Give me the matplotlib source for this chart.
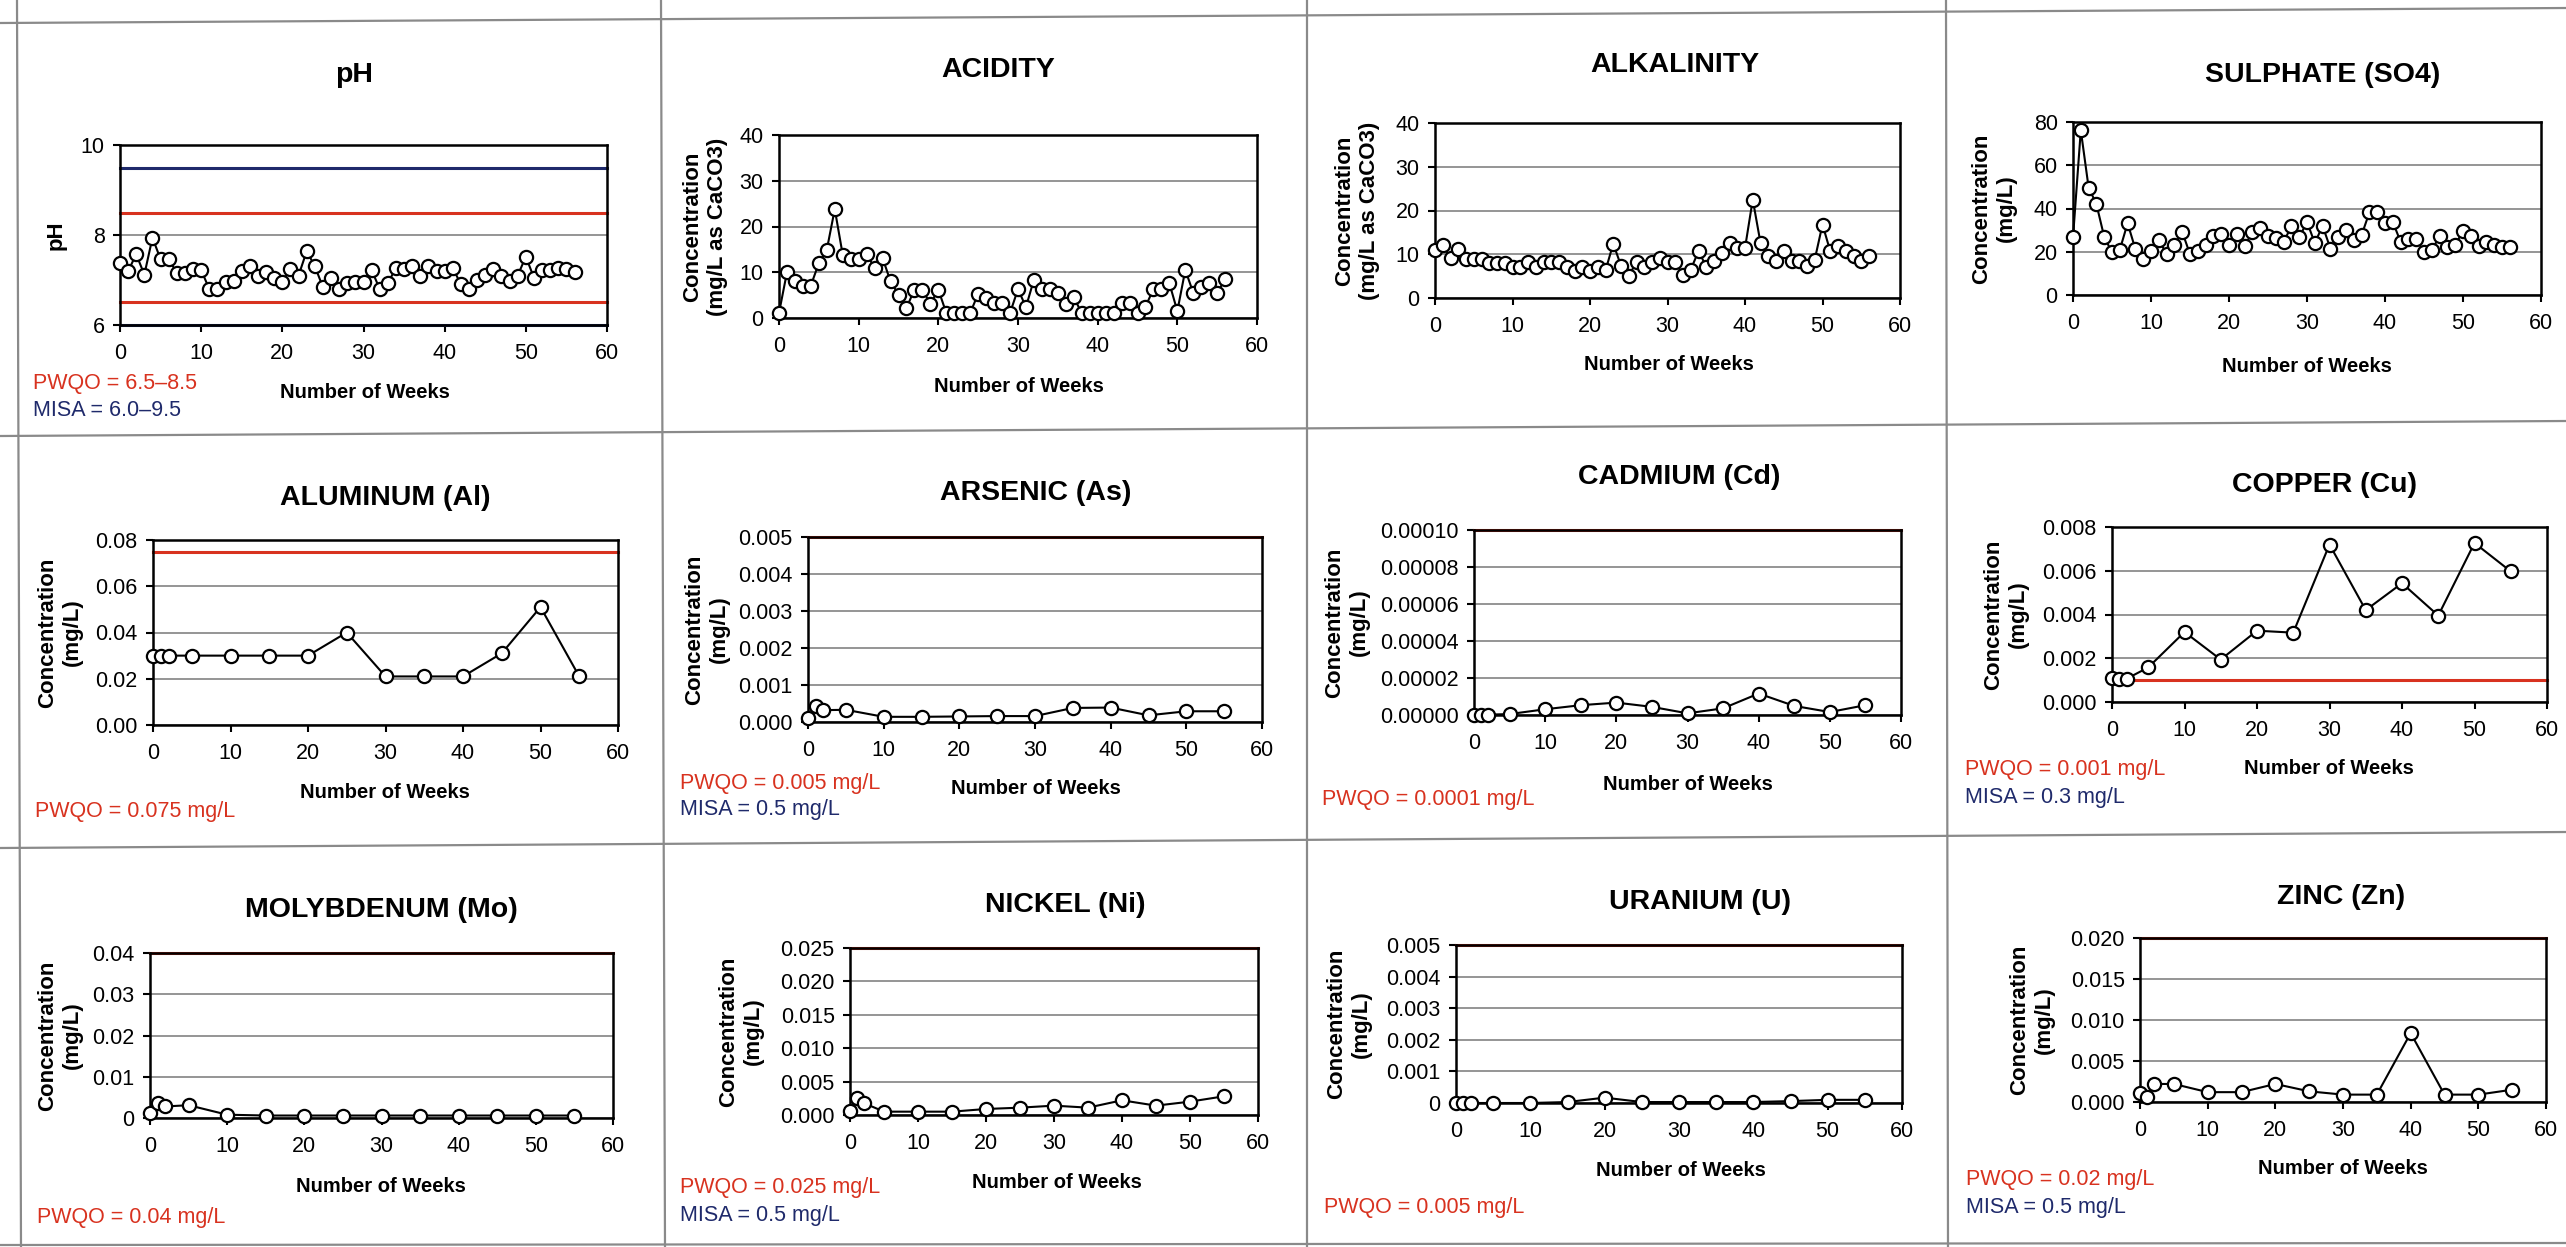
import matplotlib
matplotlib.use("Agg")
import matplotlib.pyplot as plt
from matplotlib.lines import Line2D
from matplotlib.ticker import FixedLocator, FuncFormatter

plt.rcParams['font.family'] = ['Liberation Sans', 'DejaVu Sans']

# ---- data (weeks and measured values) ----
weeks_weekly = list(range(57))
ph = [7.38, 7.20, 7.57, 7.12, 7.94, 7.46, 7.46, 7.16, 7.16, 7.25, 7.22, 6.80, 6.80, 6.95, 6.97,
      7.20, 7.31, 7.08, 7.17, 7.05, 6.95, 7.25, 7.10, 7.64, 7.31, 6.84, 7.05, 6.79, 6.93, 6.95,
      6.95, 7.22, 6.80, 6.93, 7.27, 7.25, 7.31, 7.10, 7.31, 7.20, 7.20, 7.27, 6.90, 6.80, 7.01,
      7.12, 7.25, 7.10, 6.97, 7.10, 7.52, 7.05, 7.23, 7.23, 7.27, 7.25, 7.17]
acidity = [1.1, 10.0, 8.0, 6.9, 7.1, 12.0, 14.9, 23.8, 13.8, 12.9, 12.9, 14.0, 10.9, 13.1, 8.0,
           5.1, 2.2, 6.2, 6.2, 3.1, 6.2, 1.1, 1.1, 1.1, 1.1, 5.3, 4.4, 3.3, 3.3, 1.1,
           6.3, 2.4, 8.4, 6.3, 6.3, 5.5, 3.1, 4.5, 1.1, 1.1, 1.1, 1.1, 1.1, 3.3, 3.3,
           1.1, 2.5, 6.3, 6.3, 7.6, 1.5, 10.5, 5.5, 6.8, 7.6, 5.5, 8.5]
alkalinity = [11.0, 12.2, 9.1, 11.2, 8.9, 8.9, 8.9, 8.0, 8.0, 8.0, 7.1, 7.1, 8.2, 7.1, 8.2,
              8.2, 8.2, 7.2, 6.1, 7.2, 6.1, 7.2, 6.3, 12.4, 7.4, 5.1, 8.2, 7.1, 8.2, 9.1,
              8.2, 8.2, 5.3, 6.5, 10.7, 7.2, 8.4, 10.3, 12.6, 11.4, 11.4, 22.5, 12.6, 9.5, 8.4,
              10.7, 8.4, 8.4, 7.4, 8.8, 16.8, 10.7, 11.8, 10.7, 9.5, 8.4, 9.7]
sulphate = [26.6, 76.2, 49.7, 42.0, 26.9, 19.7, 20.9, 33.2, 21.2, 16.6, 20.5, 25.5, 18.9, 23.1, 29.2,
            18.9, 20.5, 23.1, 27.1, 28.2, 23.1, 28.2, 22.5, 29.2, 31.2, 27.1, 26.2, 24.6, 31.7, 26.6,
            33.8, 24.0, 32.0, 21.5, 26.6, 30.2, 25.5, 27.7, 38.2, 38.2, 33.2, 33.8, 24.6, 25.8, 25.8,
            20.0, 20.9, 27.1, 22.0, 23.1, 29.7, 27.1, 22.8, 24.3, 23.1, 22.0, 22.0]

weeks_metals = [0, 1, 2, 5, 10, 15, 20, 25, 30, 35, 40, 45, 50, 55]
aluminum = [0.030, 0.030, 0.030, 0.030, 0.030, 0.030, 0.030, 0.040, 0.021, 0.021, 0.021, 0.031, 0.051, 0.021]
arsenic = [0.00010, 0.00042, 0.00032, 0.00033, 0.00014, 0.00014, 0.00015, 0.00016, 0.00016,
           0.00038, 0.00039, 0.00018, 0.00029, 0.00029]
cadmium = [0.0000002, 0.0000002, 0.0000002, 0.0000005, 0.0000031, 0.0000053, 0.0000067, 0.0000044,
           0.0000009, 0.0000036, 0.0000116, 0.0000049, 0.0000016, 0.0000053]
copper = [0.00110, 0.00106, 0.00106, 0.00158, 0.00320, 0.00194, 0.00326, 0.00317, 0.00720,
          0.00420, 0.00543, 0.00395, 0.00727, 0.00597]
molybdenum = [0.0013, 0.0037, 0.0028, 0.0031, 0.0008, 0.0006, 0.0006, 0.0006, 0.0006, 0.0006,
              0.0006, 0.0006, 0.0006, 0.0006]
nickel = [0.0006, 0.0025, 0.0018, 0.0005, 0.0005, 0.0005, 0.0009, 0.0011, 0.0014, 0.0011,
          0.0022, 0.0014, 0.0020, 0.0028]
uranium = [0.0, 0.0, 0.0, 0.0, 0.0, 0.00003, 0.00017, 0.00003, 0.00003, 0.00003, 0.00003,
           0.00006, 0.00010, 0.00010]
zinc = [0.0011, 0.0006, 0.0022, 0.0022, 0.0012, 0.0012, 0.0022, 0.0013, 0.0009, 0.0009,
        0.0084, 0.0009, 0.0009, 0.0015]

titles = ["pH", "ACIDITY", "ALKALINITY", "SULPHATE (SO4)",
          "ALUMINUM (Al)", "ARSENIC (As)", "CADMIUM (Cd)", "COPPER (Cu)",
          "MOLYBDENUM (Mo)", "NICKEL (Ni)", "URANIUM (U)", "ZINC (Zn)"]
ylabels = ["pH", "Concentration\n(mg/L as CaCO3)", "Concentration\n(mg/L as CaCO3)", "Concentration\n(mg/L)"] + \
          ["Concentration\n(mg/L)"] * 8
pwqo_lines = [[6.5, 8.5], [], [], [], [0.075], [0.005], [0.0001], [0.001], [0.04], [0.025], [0.005], [0.02]]
misa_lines = [[6.0, 9.5]] + [[]] * 11
notes = [["PWQO = 6.5\u20138.5", "MISA = 6.0\u20139.5"], [], [], [],
         ["PWQO = 0.075 mg/L"], ["PWQO = 0.005 mg/L", "MISA = 0.5 mg/L"],
         ["PWQO = 0.0001 mg/L"], ["PWQO = 0.001 mg/L", "MISA = 0.3 mg/L"],
         ["PWQO = 0.04 mg/L"], ["PWQO = 0.025 mg/L", "MISA = 0.5 mg/L"],
         ["PWQO = 0.005 mg/L"], ["PWQO = 0.02 mg/L", "MISA = 0.5 mg/L"]]
yticks = [[6, 8, 10], [0, 10, 20, 30, 40], [0, 10, 20, 30, 40], [0, 20, 40, 60, 80],
          [0, 0.02, 0.04, 0.06, 0.08], [0, 0.001, 0.002, 0.003, 0.004, 0.005],
          [0, 0.00002, 0.00004, 0.00006, 0.00008, 0.0001], [0, 0.002, 0.004, 0.006, 0.008],
          [0, 0.01, 0.02, 0.03, 0.04], [0, 0.005, 0.01, 0.015, 0.02, 0.025],
          [0, 0.001, 0.002, 0.003, 0.004, 0.005], [0, 0.005, 0.01, 0.015, 0.02]]
yfmt = ["{:g}", "{:g}", "{:g}", "{:g}", "{:.2f}", "{:.3f}", "{:.5f}", "{:.3f}",
        "{:g}", "{:.3f}", "{:g}", "{:.3f}"]
series = [(weeks_weekly, ph), (weeks_weekly, acidity), (weeks_weekly, alkalinity), (weeks_weekly, sulphate),
          (weeks_metals, aluminum), (weeks_metals, arsenic), (weeks_metals, cadmium), (weeks_metals, copper),
          (weeks_metals, molybdenum), (weeks_metals, nickel), (weeks_metals, uranium), (weeks_metals, zinc)]

# ---- layout in pixels of the 2566x1247 page ----
W, H = 2566, 1247
# axes box: left, right, top, bottom
boxes = [(120, 607, 145, 325), (779, 1257, 135, 318), (1435, 1900, 123, 298), (2073, 2541, 122, 295),
         (153, 618, 540, 725), (808, 1262, 537, 722), (1474, 1901, 530, 715), (2112, 2547, 527, 702),
         (150, 613, 953, 1118), (850, 1258, 948, 1115), (1456, 1902, 945, 1103), (2140, 2546, 938, 1102)]
title_pos = [(354, 75), (998, 70), (1675, 65), (2323, 75), (385, 498), (1036, 493), (1679, 477), (2325, 485),
             (381, 910), (1065, 905), (1700, 902), (2341, 897)]
ylab_x = [56, 705, 1357, 1994, 60, 707, 1347, 2006, 60, 741, 1349, 2032]
xlab_pos = [(365, 393), (1019, 387), (1669, 365), (2307, 367), (385, 793), (1036, 788), (1688, 785), (2329, 768),
            (381, 1187), (1057, 1182), (1681, 1170), (2343, 1168)]
note_pos = [(33, 383), (0, 0), (0, 0), (0, 0), (35, 812), (680, 783), (1322, 800), (1965, 770),
            (37, 1217), (680, 1188), (1324, 1208), (1966, 1180)]

RED = '#d8321f'
NAVY = '#1f2a6b'

fig = plt.figure(figsize=(W / 100, H / 100), dpi=100)
fig.patch.set_facecolor('white')


def fx(x):
    return x / W


def fy(y):
    return 1 - y / H


# panel divider lines of the scanned page
for (x0, y0, x1, y1) in [(0, 23, W, 8), (0, 436, W, 421), (0, 848, W, 832), (0, 1245, W, 1243),
                         (17, 0, 21, H), (661, 0, 665, H), (1307, 0, 1307, H), (1946, 0, 1948, H)]:
    fig.add_artist(Line2D([fx(x0), fx(x1)], [fy(y0), fy(y1)], color='#8a8a8a', lw=1.6,
                          transform=fig.transFigure))

for i in range(12):
    l, r, t, b = boxes[i]
    ax = fig.add_axes([fx(l), fy(b), (r - l) / W, (b - t) / H])
    ticks = yticks[i]
    ax.set_xlim(0, 60)
    ax.set_ylim(ticks[0], ticks[-1])
    ax.xaxis.set_major_locator(FixedLocator(range(0, 61, 10)))
    ax.yaxis.set_major_locator(FixedLocator(ticks))
    f = yfmt[i]
    ax.yaxis.set_major_formatter(FuncFormatter(lambda v, p, f=f: "0" if (f == "{:g}" and v == 0) else f.format(v)))
    ax.grid(axis='y', color='#8c8c8c', lw=1.3)
    ax.set_axisbelow(True)
    for s in ax.spines.values():
        s.set_color('black')
        s.set_linewidth(1.8)
    ax.tick_params(axis='both', direction='out', length=5, width=1.5, labelsize=15.5, colors='black')
    ax.tick_params(axis='x', pad=8)
    ax.tick_params(axis='y', pad=6)

    for v in pwqo_lines[i]:
        ax.axhline(v, color=RED, lw=2.2, zorder=2, clip_on=False)
    for v in misa_lines[i]:
        ax.axhline(v, color=NAVY, lw=2.2, zorder=2, clip_on=False)

    xs, ys = series[i]
    ax.plot(xs, ys, color='black', lw=1.5, marker='o', ms=9.5, mfc='white', mec='black', mew=1.6,
            zorder=4, clip_on=False)

    tx, ty = title_pos[i]
    fig.text(fx(tx), fy(ty), titles[i], ha='center', va='center', fontsize=20.5, fontweight='bold')
    fig.text(fx(ylab_x[i]), fy((t + b) / 2), ylabels[i], ha='center', va='center', rotation=90,
             fontsize=16, fontweight='bold', linespacing=1.25, multialignment='center')
    nx, ny = xlab_pos[i]
    fig.text(fx(nx), fy(ny), "Number of Weeks", ha='center', va='center', fontsize=14.5, fontweight='bold')
    if notes[i]:
        nx, ny = note_pos[i]
        for k, txt in enumerate(notes[i]):
            fig.text(fx(nx), fy(ny + 27 * k), txt, ha='left', va='center', fontsize=15.5,
                     color=RED if k == 0 else NAVY)

fig.savefig("out.png", dpi=100, facecolor='white')
